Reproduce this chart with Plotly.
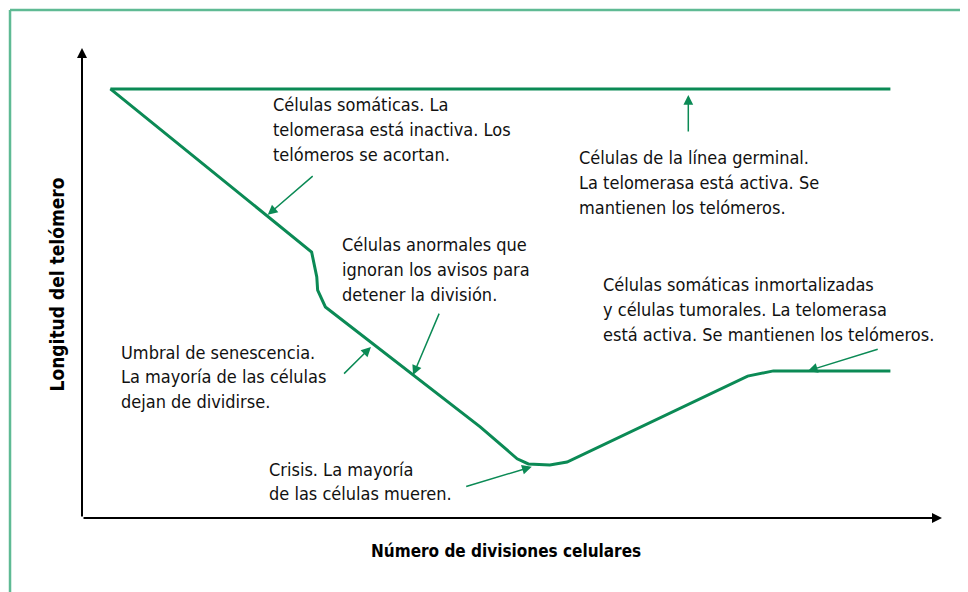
import plotly.graph_objects as go

# Telomere length (arbitrary units, 0-100) vs. number of cell divisions (0-100)
germline_x = [3.3, 94.0]
germline_y = [91.3, 91.3]

somatic_x = [3.3, 26.7, 27.3, 27.4, 28.3, 46.3, 50.6, 51.9, 54.4, 56.4, 77.4, 80.4, 94.0]
somatic_y = [91.3, 56.6, 51.3, 48.5, 44.9, 19.4, 12.6, 11.5, 11.3, 11.9, 30.2, 31.3, 31.3]

labels = [
    ["Células somáticas. La", "telomerasa está inactiva. Los", "telómeros se acortan."],
    ["Células de la línea germinal.", "La telomerasa está activa. Se", "mantienen los telómeros."],
    ["Células anormales que", "ignoran los avisos para", "detener la división."],
    ["Células somáticas inmortalizadas", "y células tumorales. La telomerasa",
     "está activa. Se mantienen los telómeros."],
    ["Umbral de senescencia.", "La mayoría de las células", "dejan de dividirse."],
    ["Crisis. La mayoría", "de las células mueren."],
]
# where each label block starts (first line)
label_pos = [(22.0, 87.9), (57.5, 76.6), (30.0, 58.1), (60.4, 49.6), (4.3, 35.3), (21.5, 10.4)]
line_step = 5.25

# pointer arrows: (head x, head y, tail x, tail y)
pointers = [
    (21.6, 64.5, 27.0, 73.0),
    (70.5, 90.0, 70.5, 81.9),
    (38.5, 30.4, 41.6, 43.8),
    (33.6, 36.4, 30.3, 30.4),
    (52.3, 10.9, 44.5, 6.6),
    (84.4, 31.3, 92.7, 36.0),
]

GREEN = "#0b8a55"
FONT = "Liberation Sans Narrow, DejaVu Sans Condensed, Arial Narrow, sans-serif"

fig = go.Figure()
fig.add_trace(go.Scatter(x=germline_x, y=germline_y, mode="lines",
                         line=dict(color=GREEN, width=3), hoverinfo="skip"))
fig.add_trace(go.Scatter(x=somatic_x, y=somatic_y, mode="lines",
                         line=dict(color=GREEN, width=3), hoverinfo="skip"))

annotations = []
for block, (bx, by) in zip(labels, label_pos):
    for i, txt in enumerate(block):
        annotations.append(dict(x=bx, y=by - i * line_step, text=txt, showarrow=False,
                                xanchor="left", yanchor="middle",
                                font=dict(family=FONT, size=18, color="#111")))

for hx, hy, tx, ty in pointers:
    annotations.append(dict(x=hx, y=hy, ax=tx, ay=ty, axref="x", ayref="y", text="",
                            showarrow=True, arrowhead=2, arrowsize=1.3, arrowwidth=1.5,
                            arrowcolor=GREEN))

# axis arrows
annotations.append(dict(x=0, y=1.0, xref="paper", yref="paper", ax=0, ay=470, text="",
                        showarrow=True, arrowhead=2, arrowsize=1, arrowwidth=2,
                        arrowcolor="black"))
annotations.append(dict(x=1.0, y=0, xref="paper", yref="paper", ax=-860, ay=0, text="",
                        showarrow=True, arrowhead=2, arrowsize=1, arrowwidth=2,
                        arrowcolor="black"))

# axis titles
annotations.append(dict(x=-0.029, y=0.497, xref="paper", yref="paper", showarrow=False,
                        xanchor="center", yanchor="middle",
                        text="<b>Longitud del telómero</b>", textangle=-90,
                        font=dict(family=FONT, size=19, color="black")))
annotations.append(dict(x=0.493, y=-0.070, xref="paper", yref="paper", showarrow=False,
                        xanchor="center", yanchor="middle",
                        text="<b>Número de divisiones celulares</b>",
                        font=dict(family=FONT, size=17, color="black")))

# light green frame (left and top edges)
shapes = [
    dict(type="line", xref="paper", yref="paper", x0=-0.0837, x1=-0.0837, y0=-0.2, y1=1.081,
         line=dict(color="#5fba94", width=2.5)),
    dict(type="line", xref="paper", yref="paper", x0=-0.0837, x1=1.1, y0=1.081, y1=1.081,
         line=dict(color="#5fba94", width=2.5)),
]

# page body adds an 8px margin, so the figure is 8px smaller and margins shifted
fig.update_layout(
    width=960, height=584,
    margin=dict(l=74, r=26, t=40, b=74),
    paper_bgcolor="white", plot_bgcolor="white",
    showlegend=False,
    xaxis=dict(range=[0, 100], visible=False, fixedrange=True),
    yaxis=dict(range=[0, 100], visible=False, fixedrange=True),
    annotations=annotations,
    shapes=shapes,
)

fig.write_html("out.html")
